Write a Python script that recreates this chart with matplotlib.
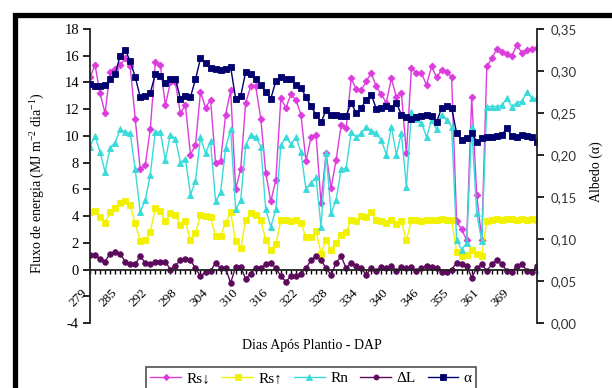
import numpy as np
import matplotlib
matplotlib.use('Agg')
import matplotlib.pyplot as plt
from matplotlib.patches import Rectangle
from matplotlib.ticker import FuncFormatter, FixedLocator
from matplotlib.transforms import ScaledTranslation

plt.rcParams['font.family'] = ['Liberation Serif', 'DejaVu Serif']
plt.rcParams['mathtext.fontset'] = 'custom'
plt.rcParams['mathtext.rm'] = 'Liberation Serif'
plt.rcParams['mathtext.it'] = 'Liberation Serif:italic'

# Rótulos do eixo x (dias após plantio), um a cada 6 leituras
dap_rotulos = ['279', '285', '292', '298', '304', '310', '316', '322',
               '328', '334', '340', '346', '355', '361', '369']

# Radiação solar incidente (MJ m-2 dia-1)
rs_desc = [14.4, 15.3, 13.2, 11.7, 14.8, 15.0, 15.3, 15.8, 15.2, 11.3, 7.5, 7.8,
           10.5, 15.5, 15.3, 12.3, 14.0, 14.0, 11.7, 12.3, 8.6, 9.3,
           13.3, 12.1, 12.7, 8.0, 8.1, 11.6, 13.4, 6.0, 7.5, 12.5, 13.7, 13.7,
           11.3, 7.2, 5.1, 6.7, 12.8, 12.1, 13.1, 12.7, 11.6, 8.1, 9.9, 10.1, 5.0,
           8.7, 6.1, 8.2, 10.8, 10.6, 14.3, 13.5, 13.4, 14.1, 14.7, 13.7, 13.1,
           12.5, 14.3, 12.9, 13.2, 8.7, 15.1, 14.7, 14.7, 13.8, 15.2, 14.4, 14.9,
           14.8, 14.4,
           3.6, 3.0, 2.2, 12.9, 5.6, 2.2, 15.2, 15.8, 16.5, 16.3, 16.1, 16.0,
           16.8, 16.2, 16.4, 16.5, 16.6]

# Radiação solar refletida
rs_asc = [4.3, 4.4, 3.9, 3.5, 4.3, 4.6, 5.0, 5.1, 4.8, 3.5, 2.1, 2.2, 2.8, 4.6,
          4.4, 3.6, 4.2, 4.1, 3.3, 3.6, 2.2, 2.7,
          4.1, 4.0, 3.9, 2.5, 2.5, 3.5, 4.3, 2.1, 1.6, 3.7, 4.2, 4.1, 3.7, 2.2,
          1.5, 1.9, 3.7, 3.7, 3.6, 3.7, 3.5, 2.4, 2.4, 2.9, 1.2, 2.2, 1.5, 2.0,
          2.6, 2.8, 3.7, 3.6, 4.0, 3.9, 4.3, 3.7, 3.6, 3.5, 3.7, 3.4, 3.6, 2.2,
          3.7, 3.7, 3.6, 3.7, 3.7,
          3.7, 3.8, 3.7, 3.7, 1.3, 1.0, 1.1, 1.5, 1.2, 1.0, 3.6, 3.7, 3.8, 3.7,
          3.8, 3.8, 3.7, 3.8, 3.7, 3.8, 3.7]

# Saldo de radiação
rn = [9.2, 10.0, 8.8, 7.3, 9.1, 9.5, 10.5, 10.3, 10.2, 7.5, 4.3, 5.2, 7.1, 10.3,
      10.3, 8.2, 10.1, 9.8, 8.0, 8.3, 5.6, 6.6,
      9.9, 8.7, 9.6, 5.1, 5.8, 9.1, 10.5, 4.5, 5.2, 9.3, 10.1, 9.9, 9.2, 4.5,
      3.2, 4.5, 9.3, 9.9, 9.4, 9.9, 8.8, 6.0, 6.5, 6.9, 3.2, 8.7, 4.2, 5.2,
      7.5, 7.6, 10.3, 9.9, 10.2, 10.7, 10.4, 10.2, 9.7, 8.6, 10.7, 8.6, 10.2,
      6.2, 11.8, 11.3, 11.0, 9.9, 11.2,
      10.5, 11.6, 11.2, 10.7, 2.2, 1.5, 2.0, 10.7, 4.2, 2.1, 12.2, 12.2, 12.2,
      12.3, 12.8, 12.2, 12.5, 12.6, 13.3, 12.8, 12.8]

# Saldo de ondas longas
delta_l = [1.1, 1.1, 0.8, 0.6, 1.2, 1.3, 1.2, 0.6, 0.4, 0.4, 1.0, 0.5, 0.4, 0.6,
           0.6, 0.6, 0.0, 0.3, 0.7, 0.8, 0.7, 0.1,
           -0.5, -0.2, -0.1, 0.5, 0.1, 0.1, -1.0, 0.2, 0.2, -0.7, -0.3, 0.1, 0.1,
           0.4, 0.5, 0.1, -0.5, -0.9, -0.5, -0.5, -0.3, 0.1, 0.7, 1.0, 0.7, 0.1,
           -0.4, 0.5, 1.0, 0.1, 0.5, 0.3, 0.1, -0.4, 0.1, -0.1, 0.2, 0.1, 0.3,
           -0.1, 0.2, 0.1, 0.2, -0.1, 0.1, 0.3, 0.2, 0.1, -0.2, -0.2, 0.0, 0.5,
           0.4, 0.3, -0.6, 0.1, 0.4, -0.1, 0.4, 0.7, 0.4, -0.1, -0.2, 0.3, 0.4,
           -0.1, -0.2, 0.3]

# Albedo da superfície
albedo = [0.285, 0.282, 0.282, 0.283, 0.290, 0.296, 0.318, 0.325, 0.312, 0.293,
          0.269, 0.270, 0.274, 0.296, 0.294, 0.286, 0.291, 0.291, 0.267, 0.270,
          0.269, 0.290, 0.315, 0.309, 0.304, 0.302, 0.301, 0.302, 0.305, 0.267,
          0.270, 0.299, 0.297, 0.290, 0.283, 0.275, 0.267, 0.288, 0.293, 0.291,
          0.290, 0.283, 0.280, 0.269, 0.258, 0.248, 0.239, 0.253, 0.248, 0.248,
          0.247, 0.247, 0.262, 0.250, 0.256, 0.266, 0.272, 0.255, 0.256, 0.258,
          0.256, 0.262, 0.248, 0.245, 0.243, 0.245, 0.247, 0.248, 0.247, 0.239,
          0.256, 0.258, 0.256, 0.226, 0.218, 0.220, 0.226, 0.216, 0.220, 0.221,
          0.221, 0.223, 0.224, 0.232, 0.223, 0.221, 0.224, 0.223, 0.221, 0.216]

x = np.arange(len(rs_desc))

W, H = 612, 388
fig = plt.figure(figsize=(W / 100, H / 100), dpi=100)
ax = fig.add_axes([90 / W, 1 - 323 / H, (537 - 90) / W, (323 - 29) / H])
ax2 = ax.twinx()

estilo = dict(lw=1.0, markeredgewidth=0.6)
l1, = ax.plot(x, rs_desc, color='#DC3CDC', marker='D', ms=3.5, mec='#DC3CDC', label='Rs↓', **estilo)
l2, = ax.plot(x, rs_asc, color='#F2F200', marker='s', ms=4.5, mec='#F2F200', label='Rs↑', **estilo)
l3, = ax.plot(x, rn, color='#38DADA', marker='^', ms=4.5, mec='#38DADA', label='Rn', **estilo)
l4, = ax.plot(x, delta_l, color='#5C0A5C', marker='o', ms=4, mec='#5C0A5C', label='ΔL', **estilo)
l5, = ax2.plot(x, albedo, color='#00006E', marker='s', ms=4.5, mec='#00006E', label='α', **estilo)

ax.set_xlim(0, len(x) - 1)
ax.set_ylim(-4, 18)
ax2.set_ylim(0, 0.35)

# eixo principal
for s in ['top', 'right']:
    ax.spines[s].set_visible(False)
ax.spines['bottom'].set_position(('data', 0))
for s in ['top', 'left', 'bottom']:
    ax2.spines[s].set_visible(False)
for sp in [ax.spines['left'], ax.spines['bottom'], ax2.spines['right']]:
    sp.set_linewidth(1.3)
    sp.set_color('#222222')

ax.set_yticks(np.arange(-4, 19, 2))
ax.set_yticklabels([('' if v == -2 else str(v)) for v in range(-4, 19, 2)])
ax.tick_params(axis='y', direction='out', length=5, width=1.2, labelsize=10.5, pad=3)

ax.set_xticks(x[::6])
ax.set_xticklabels(dap_rotulos, rotation=45, ha='right', va='top', rotation_mode='anchor')
ax.xaxis.set_minor_locator(FixedLocator(x))
ax.tick_params(axis='x', which='both', direction='out', length=3, width=1.0, labelsize=9.5, pad=6)
desloc = ScaledTranslation(-9 / 100, -5 / 100, fig.dpi_scale_trans)
for t in ax.get_xticklabels():
    t.set_transform(t.get_transform() + desloc)

ax2.set_yticks(np.arange(0, 0.351, 0.05))
ax2.yaxis.set_major_formatter(FuncFormatter(lambda v, p: f'{v:.2f}'.replace('.', ',')))
ax2.tick_params(axis='y', direction='out', length=5, width=1.2, labelsize=9.5, pad=5)
for t in ax2.get_yticklabels():
    t.set_family('Lato')
    t.set_color('#333333')

fig.text(38 / W, 1 - 183 / H, 'Fluxo de energia (MJ m$^{-2}$ dia$^{-1}$)',
         rotation=90, ha='center', va='center', fontsize=10)
fig.text(596 / W, 1 - 172 / H, 'Albedo (α)', rotation=90, ha='center', va='center', fontsize=10)
fig.text(312 / W, 1 - 346 / H, 'Dias Após Plantio - DAP', ha='center', va='center', fontsize=10)

leg = fig.legend([l1, l2, l3, l4, l5], ['Rs↓', 'Rs↑', 'Rn', 'ΔL', 'α'],
                 loc='upper center', bbox_to_anchor=(311 / W, 1 - 359 / H), ncol=5,
                 frameon=True, fancybox=False, edgecolor='#222222', fontsize=11,
                 handlelength=2.0, columnspacing=0.8, handletextpad=0.35,
                 borderpad=0.3, markerscale=0.9)
leg.get_frame().set_linewidth(1.2)

# moldura preta em volta da figura
fig.patches.append(Rectangle((14.5 / W, -0.2), 1.2, 1.2 - 14.5 / H, transform=fig.transFigure,
                             fill=False, lw=3.8, ec='black', zorder=10))

fig.savefig('out.png', dpi=100)
